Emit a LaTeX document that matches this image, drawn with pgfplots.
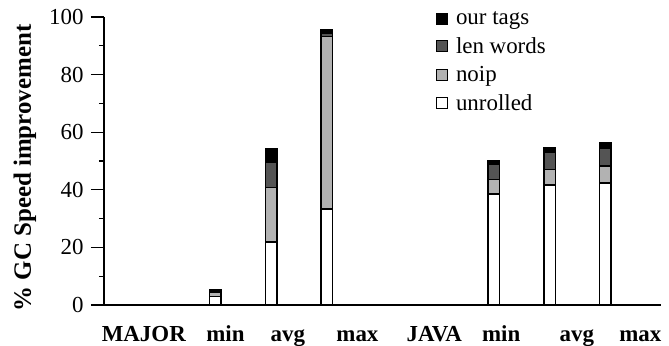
\documentclass[border=0pt]{standalone}
\usepackage{pgfplots}
\pgfplotsset{compat=1.18}
\usepackage{fontspec}
\setmainfont{Liberation Serif}
\definecolor{noipc}{gray}{0.70}
\definecolor{lenc}{gray}{0.33}
\begin{document}
\begin{tikzpicture}
\begin{axis}[
  scale only axis, width=557bp, height=288bp,
  xmin=-1, xmax=9, ymin=0, ymax=100,
  axis lines=left, axis line style={-, line width=1.2bp},
  ybar stacked, bar width=11.5bp,
  xtick={-0.285,1.18,2.30,3.55,4.93,6.13,7.49,8.63},
  xticklabels={MAJOR,min,avg,max,JAVA,min,avg,max},
  x tick style={draw=none},
  xticklabel style={font=\fontsize{23}{26}\selectfont\bfseries, anchor=base, yshift=-23bp},
  ytick={0,20,40,60,80,100},
  minor ytick={10,30,50,70,90},
  tick align=outside,
  major tick length=13bp, minor tick length=5bp,
  y tick style={line width=1.2bp, black},
  yticklabel style={font=\fontsize{23}{26}\selectfont, xshift=-4bp},
  /pgf/number format/assume math mode=true,
  ylabel={\% GC Speed improvement},
  ylabel style={font=\fontsize{25}{28}\selectfont\bfseries, xshift=-7bp},
  ylabel shift=6bp,
  legend cell align=left,
  reverse legend,
  legend style={draw=none, fill=none, at={(axis description cs:0.59,1.033)}, anchor=north west,
    font=\fontsize{23}{26}\selectfont, row sep=7.5bp,
    /tikz/every odd column/.append style={column sep=6bp}},
  legend image code/.code={\draw[#1, line width=1.2bp] (0bp,-5.5bp) rectangle (11bp,5.5bp);},
  every axis plot/.append style={draw=black, line width=1.4bp},
]
\addplot[fill=white] coordinates {(1,3.0) (2,21.9) (3,33.3) (6,38.5) (7,41.6) (8,42.3)};
\addplot[fill=noipc] coordinates {(1,1.3) (2,19.0) (3,59.9) (6,5.1) (7,5.4) (8,5.9)};
\addplot[fill=lenc] coordinates {(1,0.3) (2,8.6) (3,1.3) (6,5.1) (7,6.1) (8,6.3)};
\addplot[fill=black] coordinates {(1,0.6) (2,4.8) (3,1.0) (6,1.5) (7,1.5) (8,1.75)};
\legend{unrolled,noip,len words,our tags}
\end{axis}
\pgfresetboundingbox
\useasboundingbox ([xshift=-104bp,yshift=-40bp]current axis.south west) rectangle ([xshift=8bp,yshift=17bp]current axis.north east);
\end{tikzpicture}
\end{document}
